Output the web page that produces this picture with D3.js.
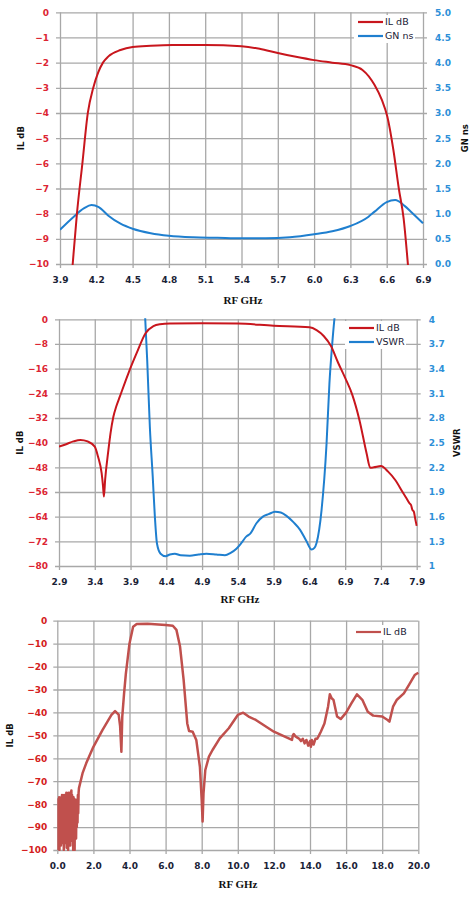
<!DOCTYPE html>
<html>
<head>
<meta charset="utf-8">
<script src="https://cdn.jsdelivr.net/npm/d3@7"></script>
<style>
  body { margin: 0; background: #fff; }
  text { font-family: "DejaVu Sans", Verdana, sans-serif; }
</style>
</head>
<body>
<script>
  // ---- chart 1: passband IL + group delay ----
  var xTicks1 = [3.9, 4.2, 4.5, 4.8, 5.1, 5.4, 5.7, 6.0, 6.3, 6.6, 6.9];
  var yTicks1 = [0, -1, -2, -3, -4, -5, -6, -7, -8, -9, -10];
  var y2Ticks1 = [0, 0.5, 1.0, 1.5, 2.0, 2.5, 3.0, 3.5, 4.0, 4.5, 5.0];

  var ilFreq1 = [3.98, 4.005, 4.04, 4.085, 4.13, 4.175, 4.215, 4.255, 4.30, 4.40, 4.50, 4.65, 4.83, 5.1, 5.4,
                 5.55, 5.7, 5.85, 6.0, 6.15, 6.3, 6.4, 6.5, 6.56, 6.605, 6.655, 6.70, 6.74, 6.775, 6.80];
  var ilDb1 = [-11.5, -10, -8, -6, -4, -3, -2.4, -2.0, -1.75, -1.5, -1.38, -1.33, -1.3, -1.3, -1.35,
               -1.45, -1.62, -1.77, -1.9, -2.0, -2.1, -2.29, -2.89, -3.48, -4.14, -5.46, -7.0, -8.2, -10, -11.5];

  var gnFreq1 = [3.9, 4.0, 4.1, 4.16, 4.22, 4.3, 4.4, 4.5, 4.65, 4.8, 5.0, 5.2, 5.4, 5.6, 5.8, 6.0, 6.15, 6.3,
                 6.45, 6.5, 6.6, 6.67, 6.75, 6.8, 6.9];
  var gnNs1 = [0.68, 0.91, 1.11, 1.17, 1.13, 0.96, 0.80, 0.70, 0.61, 0.56, 0.53, 0.52, 0.51, 0.51, 0.53, 0.59, 0.65, 0.755,
               0.94, 1.04, 1.23, 1.27, 1.15, 1.04, 0.81];

  // ---- chart 2: IL + VSWR ----
  var xTicks2 = [2.9, 3.4, 3.9, 4.4, 4.9, 5.4, 5.9, 6.4, 6.9, 7.4, 7.9];
  var yTicks2 = [0, -8, -16, -24, -32, -40, -48, -56, -64, -72, -80];
  var y2Ticks2 = [1, 1.3, 1.6, 1.9, 2.2, 2.5, 2.8, 3.1, 3.4, 3.7, 4];

  var ilFreq2 = [2.9, 3.0, 3.1, 3.2, 3.3, 3.4, 3.445, 3.496, 3.515, 3.528, 3.545, 3.59, 3.62, 3.66, 3.70, 3.75, 3.87,
                 3.985, 4.11, 4.22, 4.31, 4.45, 4.9, 5.4, 5.9, 6.4, 6.5, 6.6, 6.7, 6.8, 6.9, 7.0, 7.1, 7.2, 7.25,
                 7.3, 7.4, 7.5, 7.6, 7.7, 7.75, 7.8, 7.82, 7.84, 7.86, 7.88, 7.9];
  var ilDb2 = [-41.3, -40.5, -39.6, -39.1, -39.6, -41.3, -44.5, -49.9, -54, -57.5, -52, -42.5, -37, -31.6, -28.3, -25.1, -17.5,
               -11, -4.5, -2.2, -1.6, -1.35, -1.3, -1.4, -2.1, -2.6, -3.5, -5.4, -8.6, -14.0, -19.0, -24.5, -32.7, -43.5, -48.1,
               -48, -47.6, -49.4, -52.1, -55.9, -57.8, -59.7, -60.2, -61.8, -62.4, -64.8, -67.0];

  var vswrFreq = [4.10, 4.133, 4.17, 4.21, 4.24, 4.27, 4.32, 4.39, 4.45, 4.52, 4.6, 4.73, 4.85, 4.96, 5.1, 5.22, 5.3,
                  5.38, 5.45, 5.52, 5.57, 5.66, 5.75, 5.83, 5.92, 6.0, 6.08, 6.18, 6.27, 6.36, 6.43, 6.47, 6.5,
                  6.57, 6.64, 6.68, 6.72, 6.76];
  var vswr = [4.1, 3.5, 2.69, 2.09, 1.6, 1.27, 1.15, 1.12, 1.14, 1.15, 1.13, 1.125, 1.14, 1.15, 1.14, 1.13, 1.16,
              1.21, 1.28, 1.36, 1.39, 1.52, 1.6, 1.63, 1.66, 1.65, 1.61, 1.53, 1.44, 1.3, 1.2, 1.22, 1.28,
              1.68, 2.49, 3.22, 3.71, 4.1];

  // ---- chart 3: wideband IL ----
  var xTicks3 = [0, 2, 4, 6, 8, 10, 12, 14, 16, 18, 20];
  var yTicks3 = [0, -10, -20, -30, -40, -50, -60, -70, -80, -90, -100];

  // noise floor below ~1.2 GHz
  var noiseFreq3 = [0.00, 0.02, 0.04, 0.06, 0.08, 0.10, 0.12, 0.14, 0.16, 0.18, 0.20, 0.22, 0.24, 0.26, 0.28, 0.30,
                    0.32, 0.34, 0.36, 0.38, 0.40, 0.42, 0.44, 0.46, 0.48, 0.50, 0.52, 0.54, 0.56, 0.58, 0.60, 0.62,
                    0.64, 0.66, 0.68, 0.70, 0.72, 0.74, 0.76, 0.78, 0.80, 0.82, 0.84, 0.86, 0.88, 0.90, 0.92, 0.94,
                    0.96, 0.98, 1.00, 1.02, 1.04, 1.06, 1.08, 1.10, 1.12, 1.14, 1.16, 1.18];
  var noiseDb3 = [-100, -78, -99, -80, -96, -77, -100, -79, -94, -78, -98, -77, -92, -76, -97, -78,
                  -95, -77, -100, -76, -93, -79, -97, -76, -94, -75, -99, -77, -92, -76, -100, -75,
                  -95, -78, -93, -75, -98, -77, -94, -74, -96, -76, -91, -78, -100, -77, -93, -79,
                  -100, -78, -92, -80, -95, -79, -90, -78, -88, -76, -84, -75];

  var ilFreq3 = [1.2, 1.4, 1.6, 2.0, 2.5, 3.0, 3.2, 3.4, 3.48, 3.55, 3.6, 3.7, 3.8, 4.0, 4.2, 4.4, 5.0, 6.0, 6.4,
                 6.6, 6.8, 7.0, 7.2, 7.3, 7.5, 7.7, 7.9, 8.0, 8.05, 8.1, 8.2, 8.4, 8.6, 9.0, 9.5, 10.0, 10.3,
                 10.6, 11.0, 12.0, 13.0, 13.05, 13.1, 13.2, 13.3, 13.4, 13.5, 13.6, 13.7, 13.8, 13.9, 14.0,
                 14.05, 14.1, 14.2, 14.3, 14.4, 14.5, 14.6, 14.8, 15.0, 15.1, 15.2, 15.3, 15.5, 15.7, 16.0,
                 16.3, 16.6, 16.9, 17.2, 17.5, 18.0, 18.3, 18.4, 18.6, 18.8, 19.2, 19.5, 19.8, 20.0];
  var ilDb3 = [-73, -66.5, -62.2, -55, -47.7, -41.1, -39.4, -41, -46, -57.1, -41.8, -31.7, -23, -9.9, -2.6, -1.4,
               -1.3, -1.9, -2.2, -4, -11.3, -25.9, -44.8, -48.1, -48.4, -52, -63.7, -78.2, -87.6, -75.3, -65.1,
               -59.3, -56.4, -51.3, -46.9, -41.1, -40.1, -41.8, -43.3, -48.4, -52, -50, -49.4, -50.5, -51,
               -51.5, -52.5, -51.5, -53.5, -52, -54.5, -52.5, -55, -52, -54, -51.5, -51.5, -50, -48.4, -44.8,
               -37.5, -32.1, -33.8, -34.5, -41.8, -42.9, -40.1, -36, -32.1, -34.5, -39.7, -41.4, -41.8, -43.3,
               -44, -37.5, -34.6, -31.7, -27.8, -23.7, -22.7];

  var width = 473, height = 899;
  var gridColor = "#a8a8a8";
  var redTick = "#dc2533", blueTick = "#2d8fd8", darkText = "#1a2236";

  var svg = d3.select("body")
    .append("svg")
    .attr("width", width)
    .attr("height", height);

  function drawChart(c) {
    var g = svg.append("g");
    var x = d3.scaleLinear().domain(c.xDomain).range([c.left, c.right]);
    var y = d3.scaleLinear().domain(c.yDomain).range([c.bottom, c.top]);
    var y2 = c.y2Domain ? d3.scaleLinear().domain(c.y2Domain).range([c.bottom, c.top]) : null;

    // vertical grid + x labels
    var xa = g.append("g")
      .attr("transform", "translate(0," + (c.bottom + 4) + ")")
      .call(d3.axisBottom(x).tickValues(c.xTicks).tickFormat(d3.format(".1f"))
        .tickSize(-(c.bottom - c.top + 4)).tickPadding(9));
    xa.select(".domain").remove();
    xa.selectAll("line").attr("stroke", gridColor).attr("stroke-width", 1.3);
    xa.selectAll("text").attr("fill", darkText).style("font-size", "9px").style("font-weight", "bold");

    // horizontal grid + left labels
    var extra = y2 ? 8 : 4;
    var ya = g.append("g")
      .attr("transform", "translate(" + (c.left - 4) + ",0)")
      .call(d3.axisLeft(y).tickValues(c.yTicks)
        .tickSize(-(c.right - c.left + extra)).tickPadding(c.leftPad));
    ya.select(".domain").remove();
    ya.selectAll("line").attr("stroke", gridColor).attr("stroke-width", 1.3);
    ya.selectAll("text").attr("fill", c.leftColor).style("font-size", "9px").style("font-weight", "bold");

    if (y2) {
      var ra = g.append("g")
        .attr("transform", "translate(" + c.right + ",0)")
        .call(d3.axisRight(y2).tickValues(c.y2Ticks).tickFormat(c.y2Format)
          .tickSize(0).tickPadding(12));
      ra.select(".domain").remove();
      ra.selectAll("text").attr("fill", blueTick).style("font-size", "9px").style("font-weight", "bold");
    }

    var clipId = "clip" + c.id;
    svg.append("clipPath").attr("id", clipId)
      .append("rect")
      .attr("x", c.left).attr("y", c.top - 1)
      .attr("width", c.right - c.left + 1).attr("height", c.bottom - c.top + 2);

    var plot = g.append("g").attr("clip-path", "url(#" + clipId + ")");
    c.series.forEach(function (s) {
      var sc = s.axis === 2 ? y2 : y;
      var line = d3.line()
        .x(d => x(d[0]))
        .y(d => sc(d[1]))
        .curve(s.curve || d3.curveMonotoneX);
      plot.append("path")
        .datum(d3.zip(s.xs, s.ys))
        .attr("fill", "none")
        .attr("stroke", s.color)
        .attr("stroke-width", s.width)
        .attr("stroke-linejoin", "round")
        .attr("d", line);
    });

    // legend
    var L = c.legend;
    g.append("rect")
      .attr("x", L.x).attr("y", L.y).attr("width", L.w).attr("height", L.h)
      .attr("fill", "#fff");
    L.items.forEach(function (it, i) {
      var ly = L.y + 7 + i * 14;
      g.append("line")
        .attr("x1", L.x + 4).attr("x2", L.x + 29)
        .attr("y1", ly).attr("y2", ly)
        .attr("stroke", it.color).attr("stroke-width", 2.2);
      g.append("text")
        .attr("x", L.x + 31).attr("y", ly)
        .attr("dy", "0.35em")
        .attr("fill", darkText)
        .style("font-size", "9.5px")
        .text(it.label);
    });

    // axis titles
    g.append("text")
      .attr("transform", "translate(" + c.leftTitleX + "," + ((c.top + c.bottom) / 2) + ") rotate(-90)")
      .attr("text-anchor", "middle").attr("dy", "0.35em")
      .style("font-size", "8.5px").style("font-weight", "bold").attr("fill", "#111")
      .text("IL dB");
    if (c.rightTitle) {
      g.append("text")
        .attr("transform", "translate(" + c.rightTitleX + "," + ((c.top + c.bottom) / 2) + ") rotate(-90)")
        .attr("text-anchor", "middle").attr("dy", "0.35em")
        .style("font-size", "8.5px").style("font-weight", "bold").attr("fill", "#111")
        .text(c.rightTitle);
    }
    g.append("text")
      .attr("x", c.xTitleX).attr("y", c.xTitleY)
      .attr("text-anchor", "middle")
      .style("font-family", "'Liberation Serif', 'DejaVu Serif', serif")
      .style("font-size", "11px").style("font-weight", "bold").attr("fill", "#111")
      .text("RF GHz");
  }

  drawChart({
    id: 1, left: 60, right: 423, top: 12.3, bottom: 264,
    xDomain: [3.9, 6.9], yDomain: [-10, 0], y2Domain: [0, 5],
    xTicks: xTicks1, yTicks: yTicks1, y2Ticks: y2Ticks1, y2Format: d3.format(".1f"),
    leftPad: 7, leftColor: redTick,
    series: [
      { xs: gnFreq1, ys: gnNs1, axis: 2, color: "#1f7fcf", width: 2 },
      { xs: ilFreq1, ys: ilDb1, axis: 1, color: "#c8161d", width: 2 }
    ],
    legend: { x: 354, y: 15, w: 61, h: 28,
      items: [{ label: "IL dB", color: "#c8161d" }, { label: "GN ns", color: "#1f7fcf" }] },
    leftTitleX: 21, rightTitle: "GN ns", rightTitleX: 465,
    xTitleX: 243, xTitleY: 304
  });

  drawChart({
    id: 2, left: 59, right: 416.7, top: 319.3, bottom: 566,
    xDomain: [2.9, 7.9], yDomain: [-80, 0], y2Domain: [1, 4],
    xTicks: xTicks2, yTicks: yTicks2, y2Ticks: y2Ticks2, y2Format: d3.format("~g"),
    leftPad: 7, leftColor: redTick,
    series: [
      { xs: vswrFreq, ys: vswr, axis: 2, color: "#1f7fcf", width: 2 },
      { xs: ilFreq2, ys: ilDb2, axis: 1, color: "#c8161d", width: 2 }
    ],
    legend: { x: 345, y: 321, w: 61, h: 28,
      items: [{ label: "IL dB", color: "#c8161d" }, { label: "VSWR", color: "#1f7fcf" }] },
    leftTitleX: 20, rightTitle: "VSWR", rightTitleX: 457,
    xTitleX: 240, xTitleY: 603
  });

  drawChart({
    id: 3, left: 57.3, right: 418.3, top: 620.7, bottom: 850,
    xDomain: [0, 20], yDomain: [-100, 0],
    xTicks: xTicks3, yTicks: yTicks3,
    leftPad: 6, leftColor: "#d42020",
    series: [
      { xs: noiseFreq3.concat(ilFreq3), ys: noiseDb3.concat(ilDb3), axis: 1, color: "#c0504d", width: 2.5,
        curve: d3.curveLinear }
    ],
    legend: { x: 352, y: 625, w: 62, h: 15,
      items: [{ label: "IL dB", color: "#c0504d" }] },
    leftTitleX: 10,
    xTitleX: 238, xTitleY: 888
  });
</script>
</body>
</html>
